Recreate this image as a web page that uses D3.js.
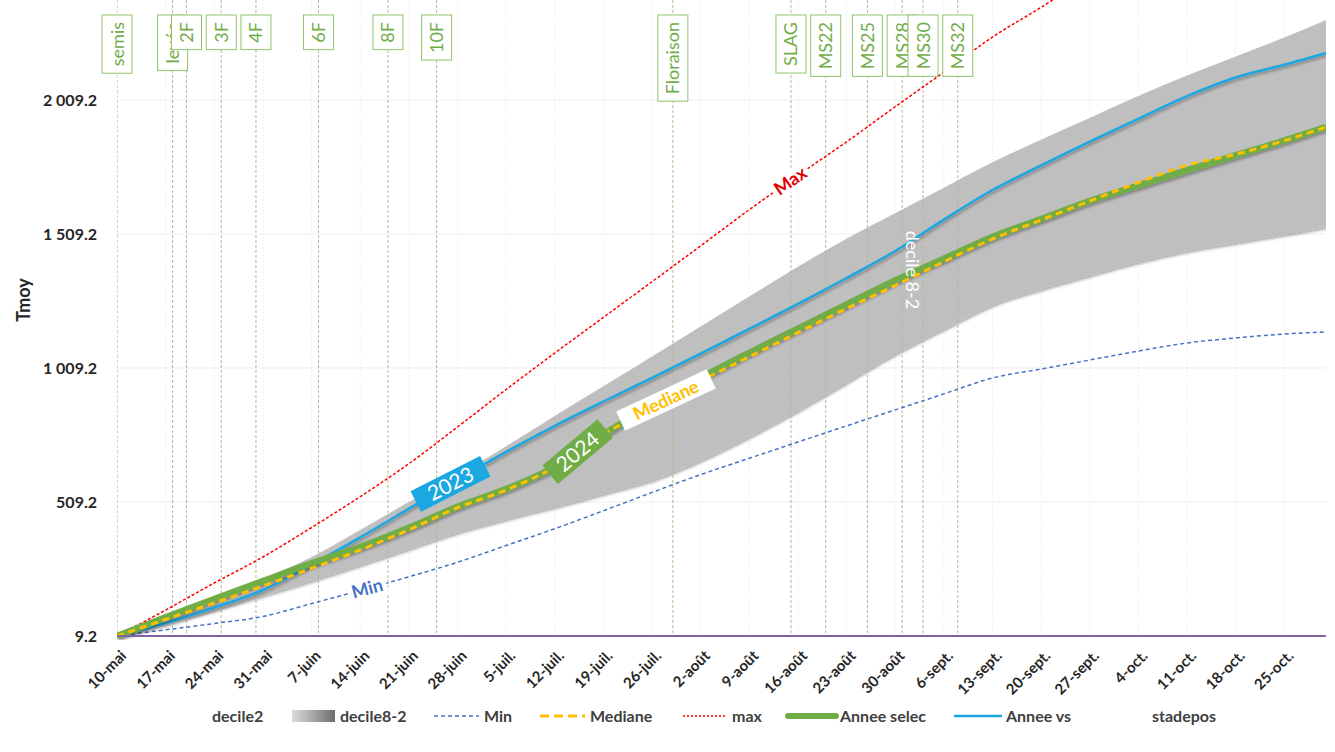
<!DOCTYPE html>
<html>
<head>
<meta charset="utf-8">
<script src="https://cdn.jsdelivr.net/npm/d3@7"></script>
<style>
body { margin: 0; background: #fff; }
text { font-family: Lato, "Open Sans", sans-serif; }
</style>
</head>
<body>
<div id="chart"></div>
<script>
// days after 10 May, one point per week + end of october
var days = [0, 7, 14, 21, 28, 35, 42, 49, 56, 63, 70, 77, 84, 91, 98, 105, 112, 119, 126, 133, 140, 147, 154, 161, 168, 174];

var tickLabels = ["10-mai", "17-mai", "24-mai", "31-mai", "7-juin", "14-juin", "21-juin", "28-juin",
    "5-juil.", "12-juil.", "19-juil.", "26-juil.", "2-août", "9-août", "16-août", "23-août", "30-août",
    "6-sept.", "13-sept.", "20-sept.", "27-sept.", "4-oct.", "11-oct.", "18-oct.", "25-oct."];

var yTicks = [9.2, 509.2, 1009.2, 1509.2, 2009.2];

var decile2 = [9.2, 57.7, 106.2, 160.7, 215.2, 274.1, 334.2, 395.4, 445.0, 490.5, 540.0, 590.0, 664.0,
    753.0, 850.0, 955.5, 1061.4, 1154.7, 1244.2, 1303.2, 1354.3, 1404.7, 1445.8, 1476.7, 1506.9, 1535.3];
var decile82 = [0, 24.3, 43.8, 61.3, 88.8, 131.0, 175.0, 213.0, 272.0, 339.6, 400.9, 462.5, 500.0,
    522.6, 537.2, 536.1, 525.4, 527.2, 532.5, 557.8, 588.1, 619.4, 654.4, 694.4, 735.1, 772.4];
var minVals = [9.2, 32.3, 55.8, 82.0, 130.1, 179.3, 230.1, 284.2, 346.9, 409.6, 476.4, 545.0, 611.4,
    672.3, 733.1, 793.2, 852.8, 912.6, 971.9, 1005.5, 1039.0, 1072.6, 1102.5, 1121.1, 1136.1, 1143.5];
var medianVals = [9.2, 71.1, 132.4, 195.7, 261.8, 330.1, 405.4, 487.9, 554.0, 639.8, 761.4, 861.4, 960.7,
    1051.0, 1141.3, 1231.2, 1317.0, 1405.8, 1490.5, 1561.5, 1632.3, 1701.4, 1765.9, 1806.5, 1857.7, 1908.4];
var maxVals = [9.2, 106, 207, 304, 414, 529, 652, 789, 929, 1065, 1198, 1331, 1465,
    1600, 1728, 1853, 1984, 2113, 2244, 2355, 2470, 2575, 2675, 2770, 2862, 2942];
var selecVals = [9.2, 78.6, 147.3, 214.4, 280.5, 341.3, 412.9, 491.6, 557.7, 639.8, 761.4, 868.9, 971.9,
    1065.9, 1156.2, 1246.1, 1335.7, 1417.0, 1498.0, 1565.2, 1632.3, 1690.2, 1747.2, 1802.8, 1857.7, 1908.4];
var vsVals = [9.2, 57.7, 115.5, 180.8, 275.2, 377.1, 484.2, 592.4, 696.1, 793.5, 884.2, 972.2, 1062.5,
    1155.5, 1248.4, 1345.0, 1445.7, 1562.9, 1673.4, 1765.2, 1853.6, 1938.7, 2023.7, 2093.2, 2140.5, 2184.6];

var stageNames = ["semis", "levée", "2F", "3F", "4F", "6F", "8F", "10F", "Floraison", "SLAG", "MS22", "MS25", "MS28", "MS30", "MS32"];
var stageDays = [0, 8, 10, 15, 20, 29, 39, 46, 80, 97, 102, 108, 113, 116, 121];

function main() {
    var W = 1335, H = 752;
    var margin = {top: 0, left: 117},
        width = 1209,
        height = 636;

    var xScale = d3.scaleLinear().domain([0, 174]).range([0, width]);
    var yScale = d3.scaleLinear().domain([9.2, 2382.3]).range([height, 0]);

    var svg = d3.select("#chart").append("svg")
        .attr("width", W)
        .attr("height", H);

    var defs = svg.append("defs");
    defs.append("clipPath").attr("id", "clip")
        .append("rect").attr("x", 0).attr("y", 0).attr("width", width).attr("height", height + 4);
    var sh = defs.append("filter").attr("id", "shadow")
        .attr("x", "-5%").attr("y", "-20%").attr("width", "110%").attr("height", "140%");
    sh.append("feDropShadow").attr("dx", 1).attr("dy", 2).attr("stdDeviation", 1.5)
        .attr("flood-color", "#000").attr("flood-opacity", 0.35);
    var grad = defs.append("linearGradient").attr("id", "legGrad");
    grad.append("stop").attr("offset", "0%").attr("stop-color", "#dcdcdc");
    grad.append("stop").attr("offset", "100%").attr("stop-color", "#6e6e6e");

    var g = svg.append("g")
        .attr("transform", "translate(" + margin.left + "," + margin.top + ")");

    var rows = days.map(function(d, i) {
        return {day: d, d2: decile2[i], d8: decile2[i] + decile82[i], min: minVals[i], med: medianVals[i],
                max: maxVals[i], selec: selecVals[i], vs: vsVals[i]};
    });

    // gridlines
    var weekTicks = d3.range(0, 169, 7);
    g.append("g").selectAll("line").data(weekTicks).enter().append("line")
        .attr("x1", function(d) { return xScale(d); })
        .attr("x2", function(d) { return xScale(d); })
        .attr("y1", 0).attr("y2", height)
        .attr("stroke", "#e6e6e6").attr("stroke-dasharray", "1,2");
    g.append("g").selectAll("line").data(yTicks).enter().append("line")
        .attr("x1", 0).attr("x2", width)
        .attr("y1", function(d) { return yScale(d); })
        .attr("y2", function(d) { return yScale(d); })
        .attr("stroke", "#eeeeee");

    var plot = g.append("g").attr("clip-path", "url(#clip)");

    // decile band
    var area = d3.area()
        .x(function(d) { return xScale(d.day); })
        .y0(function(d) { return yScale(d.d2); })
        .y1(function(d) { return yScale(d.d8); })
        .curve(d3.curveMonotoneX);
    plot.append("path").datum(rows)
        .attr("d", area)
        .attr("fill", "#bfbfbf")
        .attr("filter", "url(#shadow)");

    // stage lines
    plot.append("g").selectAll("line").data(stageDays).enter().append("line")
        .attr("x1", function(d) { return xScale(d); })
        .attr("x2", function(d) { return xScale(d); })
        .attr("y1", 0).attr("y2", height)
        .attr("stroke", "#b3b98f").attr("stroke-width", 1).attr("stroke-dasharray", "3,2");

    function line(key) {
        return d3.line()
            .x(function(d) { return xScale(d.day); })
            .y(function(d) { return yScale(d[key]); })
            .curve(d3.curveMonotoneX);
    }

    plot.append("path").datum(rows).attr("d", line("min"))
        .attr("fill", "none").attr("stroke", "#4472c4").attr("stroke-width", 1.5).attr("stroke-dasharray", "4,3");
    plot.append("path").datum(rows).attr("d", line("max"))
        .attr("fill", "none").attr("stroke", "#ff0000").attr("stroke-width", 1.5).attr("stroke-dasharray", "3,2");
    plot.append("path").datum(rows).attr("d", line("vs"))
        .attr("fill", "none").attr("stroke", "#1ba7e2").attr("stroke-width", 2.5).attr("filter", "url(#shadow)");
    plot.append("path").datum(rows).attr("d", line("selec"))
        .attr("fill", "none").attr("stroke", "#70ad47").attr("stroke-width", 6.5).attr("filter", "url(#shadow)");
    plot.append("path").datum(rows).attr("d", line("med"))
        .attr("fill", "none").attr("stroke", "#ffc000").attr("stroke-width", 3).attr("stroke-dasharray", "7,5");

    // bottom axis line
    g.append("line").attr("x1", 0).attr("x2", width).attr("y1", height).attr("y2", height)
        .attr("stroke", "#8064a2").attr("stroke-width", 2);

    // value at a given day on a series (linear between weekly points)
    function valueAt(arr, day) {
        var i = d3.bisectRight(days, day) - 1;
        if (i >= days.length - 1) return arr[arr.length - 1];
        var t = (day - days[i]) / (days[i + 1] - days[i]);
        return arr[i] + t * (arr[i + 1] - arr[i]);
    }

    function tag(day, arr, angle, txt, w, h, fill, color, size, weight) {
        var lg = g.append("g")
            .attr("transform", "translate(" + xScale(day) + "," + yScale(valueAt(arr, day)) + ") rotate(" + angle + ")");
        if (fill) {
            lg.append("rect").attr("x", -w / 2).attr("y", -h / 2).attr("width", w).attr("height", h).attr("fill", fill);
        }
        lg.append("text").attr("text-anchor", "middle").attr("dy", "0.35em")
            .style("font-size", size + "px").style("font-weight", weight)
            .attr("fill", color).text(txt);
    }
    tag(96.9, maxVals, -35, "Max", 42, 20, "#fff", "#e00000", 18, "bold");
    tag(36, minVals, -15, "Min", 40, 20, "#fff", "#4472c4", 18, "bold");
    tag(48, vsVals, -27, "2023", 78, 23, "#1ba7e2", "#fff", 21, "normal");
    tag(66.3, selecVals, -40, "2024", 72, 24, "#70ad47", "#fff", 21, "normal");
    tag(79, medianVals, -25, "Mediane", 100, 21, "#fff", "#ffc000", 18, "bold");
    g.append("text")
        .attr("transform", "translate(" + (xScale(114.4) - 6) + "," + yScale(1375) + ") rotate(90)")
        .attr("text-anchor", "middle")
        .style("font-size", "18px").attr("fill", "#fff").text("decile 8-2");

    // stage labels
    stageNames.forEach(function(name, i) {
        var sg = g.append("g").attr("transform", "translate(" + xScale(stageDays[i]) + ",15)");
        var rect = sg.append("rect").attr("x", -15).attr("y", 0).attr("width", 30)
            .attr("fill", "#fff").attr("stroke", "#8fc46a").attr("stroke-width", 1);
        var t = sg.append("text").attr("transform", "rotate(-90)")
            .attr("text-anchor", "middle").attr("y", 6.5)
            .style("font-size", "18px").attr("fill", "#70ad47").text(name);
        var len = t.node().getComputedTextLength();
        var h = len + 14;
        rect.attr("height", h);
        t.attr("x", -h / 2);
    });

    // axes
    var fmt = d3.formatLocale({decimal: ".", thousands: " ", grouping: [3], currency: ["", ""]}).format(",.1f");
    var yAxis = g.append("g").call(d3.axisLeft(yScale).tickValues(yTicks).tickSize(0).tickPadding(20).tickFormat(fmt));
    yAxis.select(".domain").remove();
    yAxis.selectAll("text").style("font-size", "16px").style("font-weight", "bold").attr("fill", "#262626");

    var xAxis = g.append("g").attr("transform", "translate(0," + height + ")")
        .call(d3.axisBottom(xScale).tickValues(weekTicks).tickSize(0)
            .tickFormat(function(d, i) { return tickLabels[i]; }));
    xAxis.select(".domain").remove();
    xAxis.selectAll("text")
        .style("font-size", "15px").style("font-weight", "bold").attr("fill", "#262626")
        .attr("text-anchor", "end")
        .attr("dy", "0.35em")
        .attr("transform", "translate(6,17) rotate(-45)")
        .attr("y", 0).attr("x", 0);

    svg.append("text")
        .attr("transform", "translate(30,300) rotate(-90)")
        .attr("text-anchor", "middle")
        .style("font-size", "18px").style("font-weight", "bold").attr("fill", "#262626")
        .text("Tmoy");

    // legend
    var ly = 716;
    var leg = svg.append("g").attr("class", "legend");
    var legText = [["decile2", 212], ["decile8-2", 340], ["Min", 484], ["Mediane", 590],
                   ["max", 732], ["Annee selec", 840], ["Annee vs", 1006], ["stadepos", 1152]];
    leg.selectAll("text").data(legText).enter().append("text")
        .attr("x", function(d) { return d[1]; }).attr("y", ly).attr("dy", "0.35em")
        .style("font-size", "16px").style("font-weight", "bold").attr("fill", "#404040")
        .text(function(d) { return d[0]; });
    leg.append("rect").attr("x", 292).attr("y", ly - 6).attr("width", 43).attr("height", 12).attr("fill", "url(#legGrad)");
    leg.append("line").attr("x1", 434).attr("x2", 479).attr("y1", ly).attr("y2", ly)
        .attr("stroke", "#4472c4").attr("stroke-width", 1.5).attr("stroke-dasharray", "4,3");
    leg.append("line").attr("x1", 540).attr("x2", 585).attr("y1", ly).attr("y2", ly)
        .attr("stroke", "#ffc000").attr("stroke-width", 3).attr("stroke-dasharray", "9,5");
    leg.append("line").attr("x1", 683).attr("x2", 727).attr("y1", ly).attr("y2", ly)
        .attr("stroke", "#ff0000").attr("stroke-width", 1.5).attr("stroke-dasharray", "2,2");
    leg.append("line").attr("x1", 788).attr("x2", 836).attr("y1", ly).attr("y2", ly)
        .attr("stroke", "#70ad47").attr("stroke-width", 6).attr("stroke-linecap", "round");
    leg.append("line").attr("x1", 954).attr("x2", 1002).attr("y1", ly).attr("y2", ly)
        .attr("stroke", "#1ba7e2").attr("stroke-width", 2.5);
}

main();
</script>
</body>
</html>
